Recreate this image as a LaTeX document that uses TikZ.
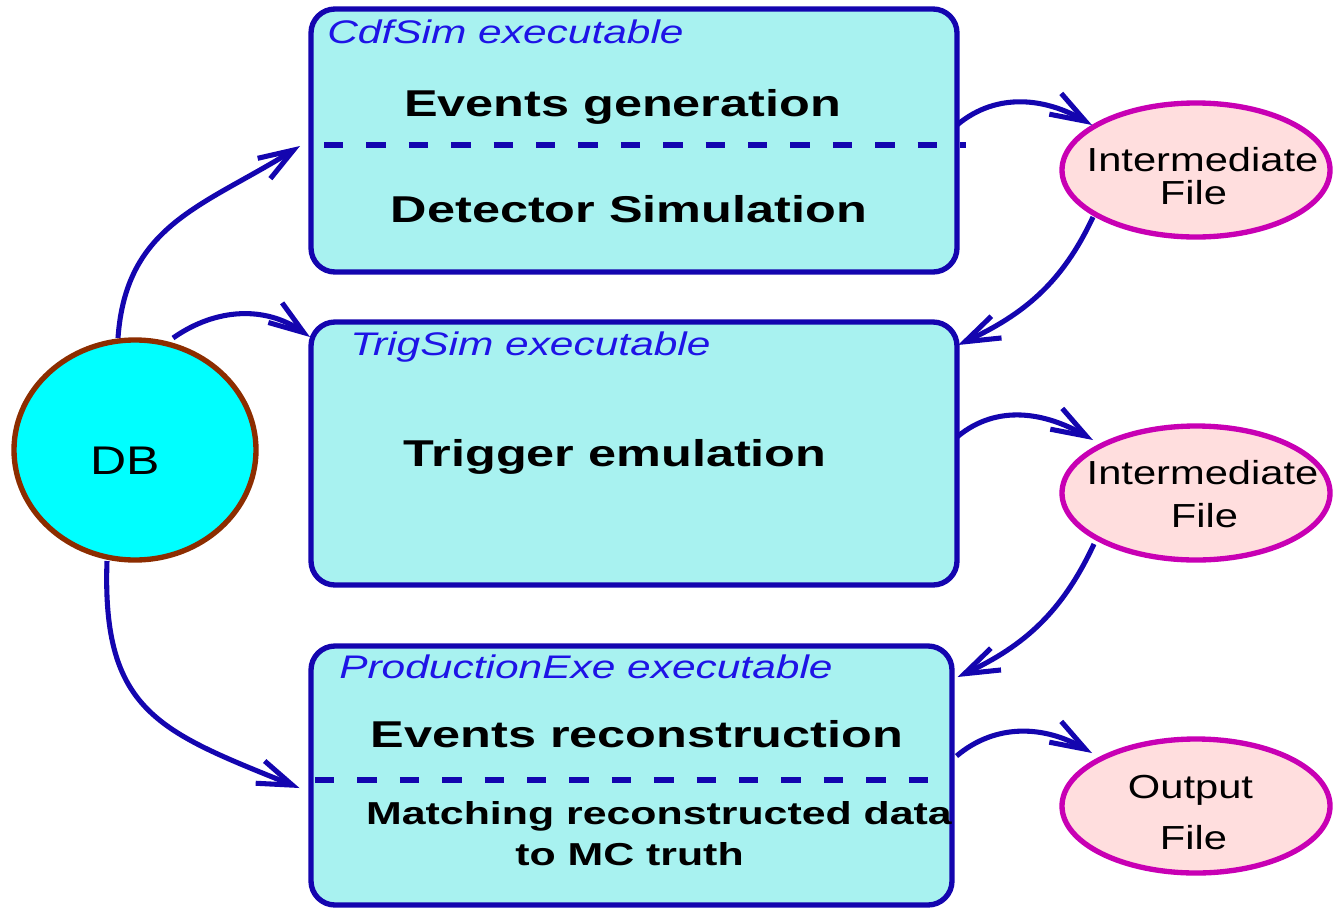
\documentclass[tikz,border=0pt]{standalone}
\usepackage{fontspec}
\setmainfont{Liberation Sans}
\newfontfamily\regf[FakeStretch=1.25]{Liberation Sans}
\newfontfamily\boldf[FakeStretch=1.35]{Liberation Sans}
\newfontfamily\itf[FakeStretch=1.3]{Liberation Sans}
\usetikzlibrary{arrows.meta,shapes.geometric}
\definecolor{boxfill}{RGB}{168,242,240}
\definecolor{navy}{RGB}{20,5,175}
\definecolor{lblblue}{RGB}{30,20,230}
\definecolor{dbfill}{RGB}{0,255,255}
\definecolor{dbline}{RGB}{140,45,0}
\definecolor{filefill}{RGB}{255,222,222}
\definecolor{fileline}{RGB}{200,0,180}
\tikzset{
  exebox/.style={draw=navy, line width=4pt, fill=boxfill, rounded corners=18pt,
    minimum width=484.5pt, minimum height=197.25pt, inner sep=0pt},
  dbnode/.style={ellipse, draw=dbline, fill=dbfill, line width=4pt,
    minimum width=181.5pt, minimum height=165pt, inner sep=0pt},
  filenode/.style={ellipse, draw=fileline, fill=filefill, line width=4pt,
    minimum width=201pt, minimum height=100.5pt, inner sep=0pt},
  arr/.style={draw=navy, line width=3.8pt, -{Straight Barb[length=26pt,width=18pt]}},
  divider/.style={draw=navy, line width=3.8pt, dash pattern=on 14.6pt off 17.2pt},
  exelbl/.style={font=\itf\itshape\fontsize{24.5}{28}\selectfont, text=lblblue, anchor=base west, inner sep=0pt},
  headtxt/.style={font=\boldf\bfseries\fontsize{28}{32}\selectfont, anchor=base, inner sep=0pt},
  subtxt/.style={font=\boldf\bfseries\fontsize{23.8}{28}\selectfont, anchor=base, inner sep=0pt},
  ftxt/.style={font=\regf\fontsize{25}{30}\selectfont, anchor=base, inner sep=0pt},
  dbtxt/.style={font=\regf\fontsize{30}{36}\selectfont, anchor=base, inner sep=0pt}
}
\begin{document}
\begin{tikzpicture}[x=0.75pt,y=0.75pt]
\useasboundingbox (0,0) rectangle (1334,-907);

% executable boxes
\node[exebox] (box1) at (634,-140.5) {};
\node[exebox] (box2) at (634,-453.5) {};
\node[exebox, minimum width=480.75pt, minimum height=194.25pt] (box3) at (631.5,-775.5) {};

% dashed dividers
\draw[divider] ([shift={(-310,-4.5)}]box1.center) -- ([shift={(332,-4.5)}]box1.center);
\draw[divider] ([shift={(-316.5,-4.5)}]box3.center) -- ([shift={(303.5,-4.5)}]box3.center);

% database and files
\node[dbnode] (db) at (135,-450) {};
\node[filenode] (f1) at (1196,-170) {};
\node[filenode] (f2) at (1196,-493) {};
\node[filenode] (f3) at (1196,-806) {};

% labels
\node[exelbl] (l1) at (327,-43) {CdfSim executable};
\node[exelbl] (l2) at (350,-355) {TrigSim executable};
\node[exelbl] (l3) at (339,-678) {ProductionExe executable};

\node[headtxt] (t1) at (622.5,-116.5) {Events generation};
\node[headtxt] (t2) at (629,-222.5) {Detector Simulation};
\node[headtxt] (t3) at (615,-466) {Trigger emulation};
\node[headtxt] (t4) at (637,-747) {Events reconstruction};
\node[subtxt] (t5) at (659,-824) {Matching reconstructed data};
\node[subtxt] (t6) at (629.5,-865) {to MC truth};

\node[dbtxt] (dbt) at (125.5,-474) {DB};
\node[ftxt] (f1a) at (1202.5,-171) {Intermediate};
\node[ftxt] (f1b) at (1193.5,-204) {File};
\node[ftxt] (f2a) at (1202.5,-484) {Intermediate};
\node[ftxt] (f2b) at (1204.5,-527) {File};
\node[ftxt] (f3a) at (1190.5,-798) {Output};
\node[ftxt] (f3b) at (1193.5,-849) {File};

% connectors
\draw[arr] ([shift={(-17,112)}]db.center) to[out=86,in=212,looseness=1.1] ([shift={(-334,-5.5)}]box1.center);
\draw[arr] ([shift={(38,112)}]db.center) to[out=35,in=145] ([shift={(-324,116.5)}]box2.center);
\draw[arr] ([shift={(-28,-111)}]db.center) to[out=268,in=158,looseness=1.3] ([shift={(-332,-12.5)}]box3.center);

\draw[arr] ([shift={(323,15.5)}]box1.center) to[out=40,in=150] ([shift={(-104,45)}]f1.center);
\draw[arr] ([shift={(-103,-47)}]f1.center) to[out=245,in=25] ([shift={(324,108.5)}]box2.center);
\draw[arr] ([shift={(323,16.5)}]box2.center) to[out=40,in=150] ([shift={(-103,53)}]f2.center);
\draw[arr] ([shift={(-102,-51)}]f2.center) to[out=245,in=25] ([shift={(326,98.5)}]box3.center);
\draw[arr] ([shift={(325,19.5)}]box3.center) to[out=40,in=150] ([shift={(-104,53)}]f3.center);
\end{tikzpicture}
\end{document}
